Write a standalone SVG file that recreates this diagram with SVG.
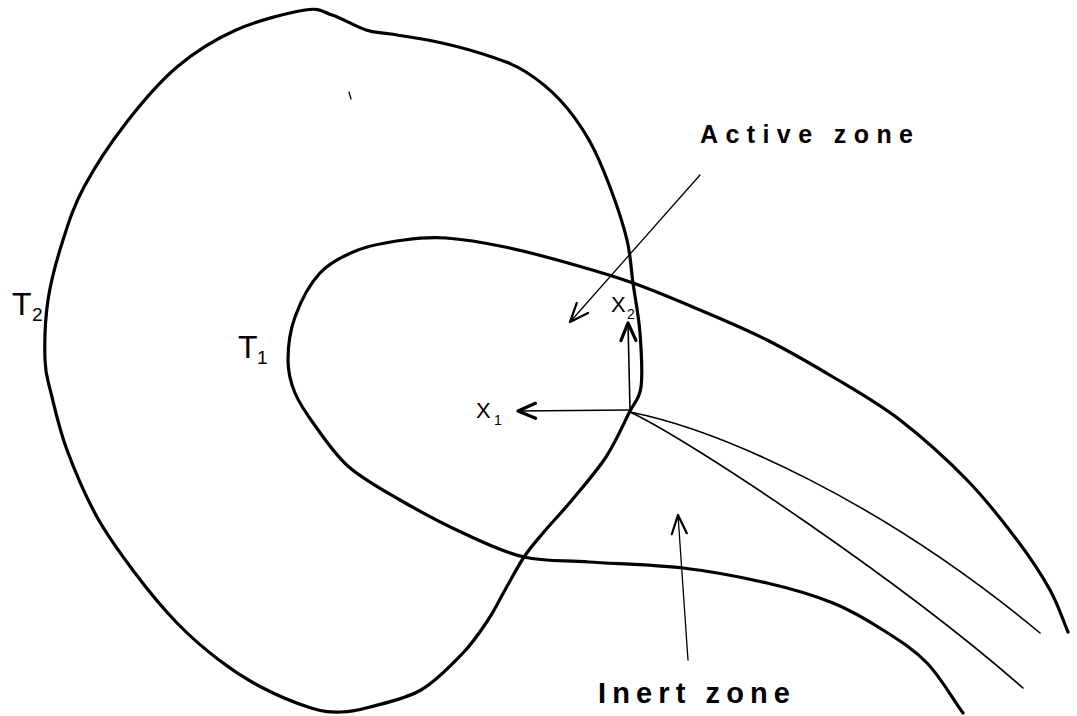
<svg xmlns="http://www.w3.org/2000/svg" width="1077" height="716" viewBox="0 0 1077 716">
<style>
.thick{fill:none;stroke:#000;stroke-width:3.2;stroke-linecap:round;stroke-linejoin:round}
.thin{fill:none;stroke:#000;stroke-width:1.6;stroke-linecap:round}
.lead{fill:none;stroke:#000;stroke-width:1.3;stroke-linecap:round}
.hand{font-family:"Liberation Sans","DejaVu Sans",sans-serif;fill:#000}
.type{font-family:"Liberation Sans","DejaVu Sans",sans-serif;font-weight:bold;fill:#000}
</style>
<defs>
<marker id="openV" markerUnits="userSpaceOnUse" markerWidth="30" markerHeight="30" viewBox="-20 -10 24 20" refX="0" refY="0" orient="auto">
<path d="M -15,-6 L 0,0 L -15,6" fill="none" stroke="#000" stroke-width="1.8" stroke-linecap="round" stroke-linejoin="round"/>
</marker>
<marker id="boldV" markerUnits="userSpaceOnUse" markerWidth="30" markerHeight="30" viewBox="-20 -10 24 20" refX="0" refY="0" orient="auto">
<path d="M -14,-6 L 0,0 L -14,6" fill="none" stroke="#000" stroke-width="2.6" stroke-linecap="round" stroke-linejoin="round"/>
</marker>
</defs>
<rect width="1077" height="716" fill="#fff"/>

<g id="T2-region">
<path class="thick" d="M 305,10 C 321,7.5 321.8,11.7 332,15 C 342.2,18.3 356.2,26.8 366,30 C 375.8,33.2 378.3,31.8 391,34 C 403.7,36.2 425.2,39.2 442,43 C 458.8,46.8 478,52.2 492,57 C 506,61.8 514.7,64.8 526,72 C 537.3,79.2 549.5,88.7 560,100 C 570.5,111.3 580.7,125.5 589,140 C 597.3,154.5 603.7,170.3 610,187 C 616.3,203.7 623.2,224 627,240 C 630.8,256 630.8,267.5 633,283 C 635.2,298.5 638.7,315.7 640,333 C 641.3,350.3 642.8,373.7 641,387 C 639.2,400.3 634.8,401.3 629,413 C 623.2,424.7 615.5,442.5 606,457 C 596.5,471.5 582.5,487.3 572,500 C 561.5,512.7 551,523.5 543,533 C 535,542.5 530.3,547.5 524,557 C 517.7,566.5 511,579.5 505,590 C 499,600.5 495,609.5 488,620 C 481,630.5 474.2,641.3 463,653 C 451.8,664.7 436.5,681 421,690 C 405.5,699 383.3,703.3 370,707 C 356.7,710.7 350.8,711.8 341,712 C 331.2,712.2 324.3,712.2 311,708 C 297.7,703.8 276.3,695 261,687 C 245.7,679 233,670.7 219,660 C 205,649.3 191,637.5 177,623 C 163,608.5 148.3,590.7 135,573 C 121.7,555.3 108.3,537.5 97,517 C 85.7,496.5 74.7,470.7 67,450 C 59.3,429.3 54.7,408 51,393 C 47.3,378 45.5,375.5 45,360 C 44.5,344.5 45,320 48,300 C 51,280 57,258.8 63,240 C 69,221.2 73.5,206.5 84,187 C 94.5,167.5 110.5,143 126,123 C 141.5,103 158.7,82.5 177,67 C 195.3,51.5 214.7,39.5 236,30 C 257.3,20.5 289,12.5 305,10 Z"/>
<text class="hand" x="12" y="315" font-size="32">T</text>
<text class="hand" x="32" y="321" font-size="19">2</text>
<path class="lead" d="M 349,92 L 351,99"/>
</g>

<g id="T1-region">
<path class="thick" d="M 1068,632 C 1062,618 1058.5,605.3 1050,590 C 1041.5,574.7 1030.8,558.3 1017,540 C 1003.2,521.7 986.5,500 967,480 C 947.5,460 922.3,437.2 900,420 C 877.7,402.8 855.2,390.3 833,377 C 810.8,363.7 789.2,351.2 767,340 C 744.8,328.8 722.3,319.5 700,310 C 677.7,300.5 655,290.8 633,283 C 611,275.2 589.3,269 568,263 C 546.7,257 525.3,251.2 505,247 C 484.7,242.8 462.8,239.2 446,238 C 429.2,236.8 418.7,238 404,240 C 389.3,242 372,244.5 358,250 C 344,255.5 330.5,261.8 320,273 C 309.5,284.2 300.3,302.5 295,317 C 289.7,331.5 288,347.3 288,360 C 288,372.7 290.3,381.8 295,393 C 299.7,404.2 307,414.7 316,427 C 325,439.3 335,454.8 349,467 C 363,479.2 381,489 400,500 C 419,511 442.3,523.5 463,533 C 483.7,542.5 503,552.2 524,557 C 545,561.8 562.5,560.2 589,562 C 615.5,563.8 653.3,564.5 683,568 C 712.7,571.5 742,577.2 767,583 C 792,588.8 813.7,595.2 833,603 C 852.3,610.8 867.3,620 883,630 C 898.7,640 913.7,649.2 927,663 C 940.3,676.8 951,696.3 963,713"/>
<text class="hand" x="238" y="358" font-size="32">T</text>
<text class="hand" x="257" y="364" font-size="19">1</text>
</g>

<g id="trajectories">
<path class="thin" d="M 630,412 C 720,430 880,500 1040,633"/>
<path class="thin" d="M 630,412 C 690,440 900,580 1023,688"/>
</g>

<g id="axes">
<path class="thin" stroke-width="2" d="M 630,410 L 628,323" marker-end="url(#boldV)"/>
<path class="thin" stroke-width="2" d="M 630,410 L 518,411" marker-end="url(#boldV)"/>
<text class="hand" x="611" y="312" font-size="22">X</text>
<text class="hand" x="627" y="319" font-size="14">2</text>
<text class="hand" x="476" y="418" font-size="22">X</text>
<text class="hand" x="494" y="425" font-size="14">1</text>
</g>

<g id="connectors">
<path class="lead" d="M 700,175 L 570,322" marker-end="url(#openV)"/>
<path class="lead" d="M 688,660 L 678,515" marker-end="url(#openV)"/>
</g>

<g id="label-active">
<text class="type" x="700" y="143" font-size="25" textLength="213" lengthAdjust="spacing">Active zone</text>
</g>
<g id="label-inert">
<text class="type" x="598" y="703" font-size="29" textLength="192" lengthAdjust="spacing">Inert zone</text>
</g>
</svg>
